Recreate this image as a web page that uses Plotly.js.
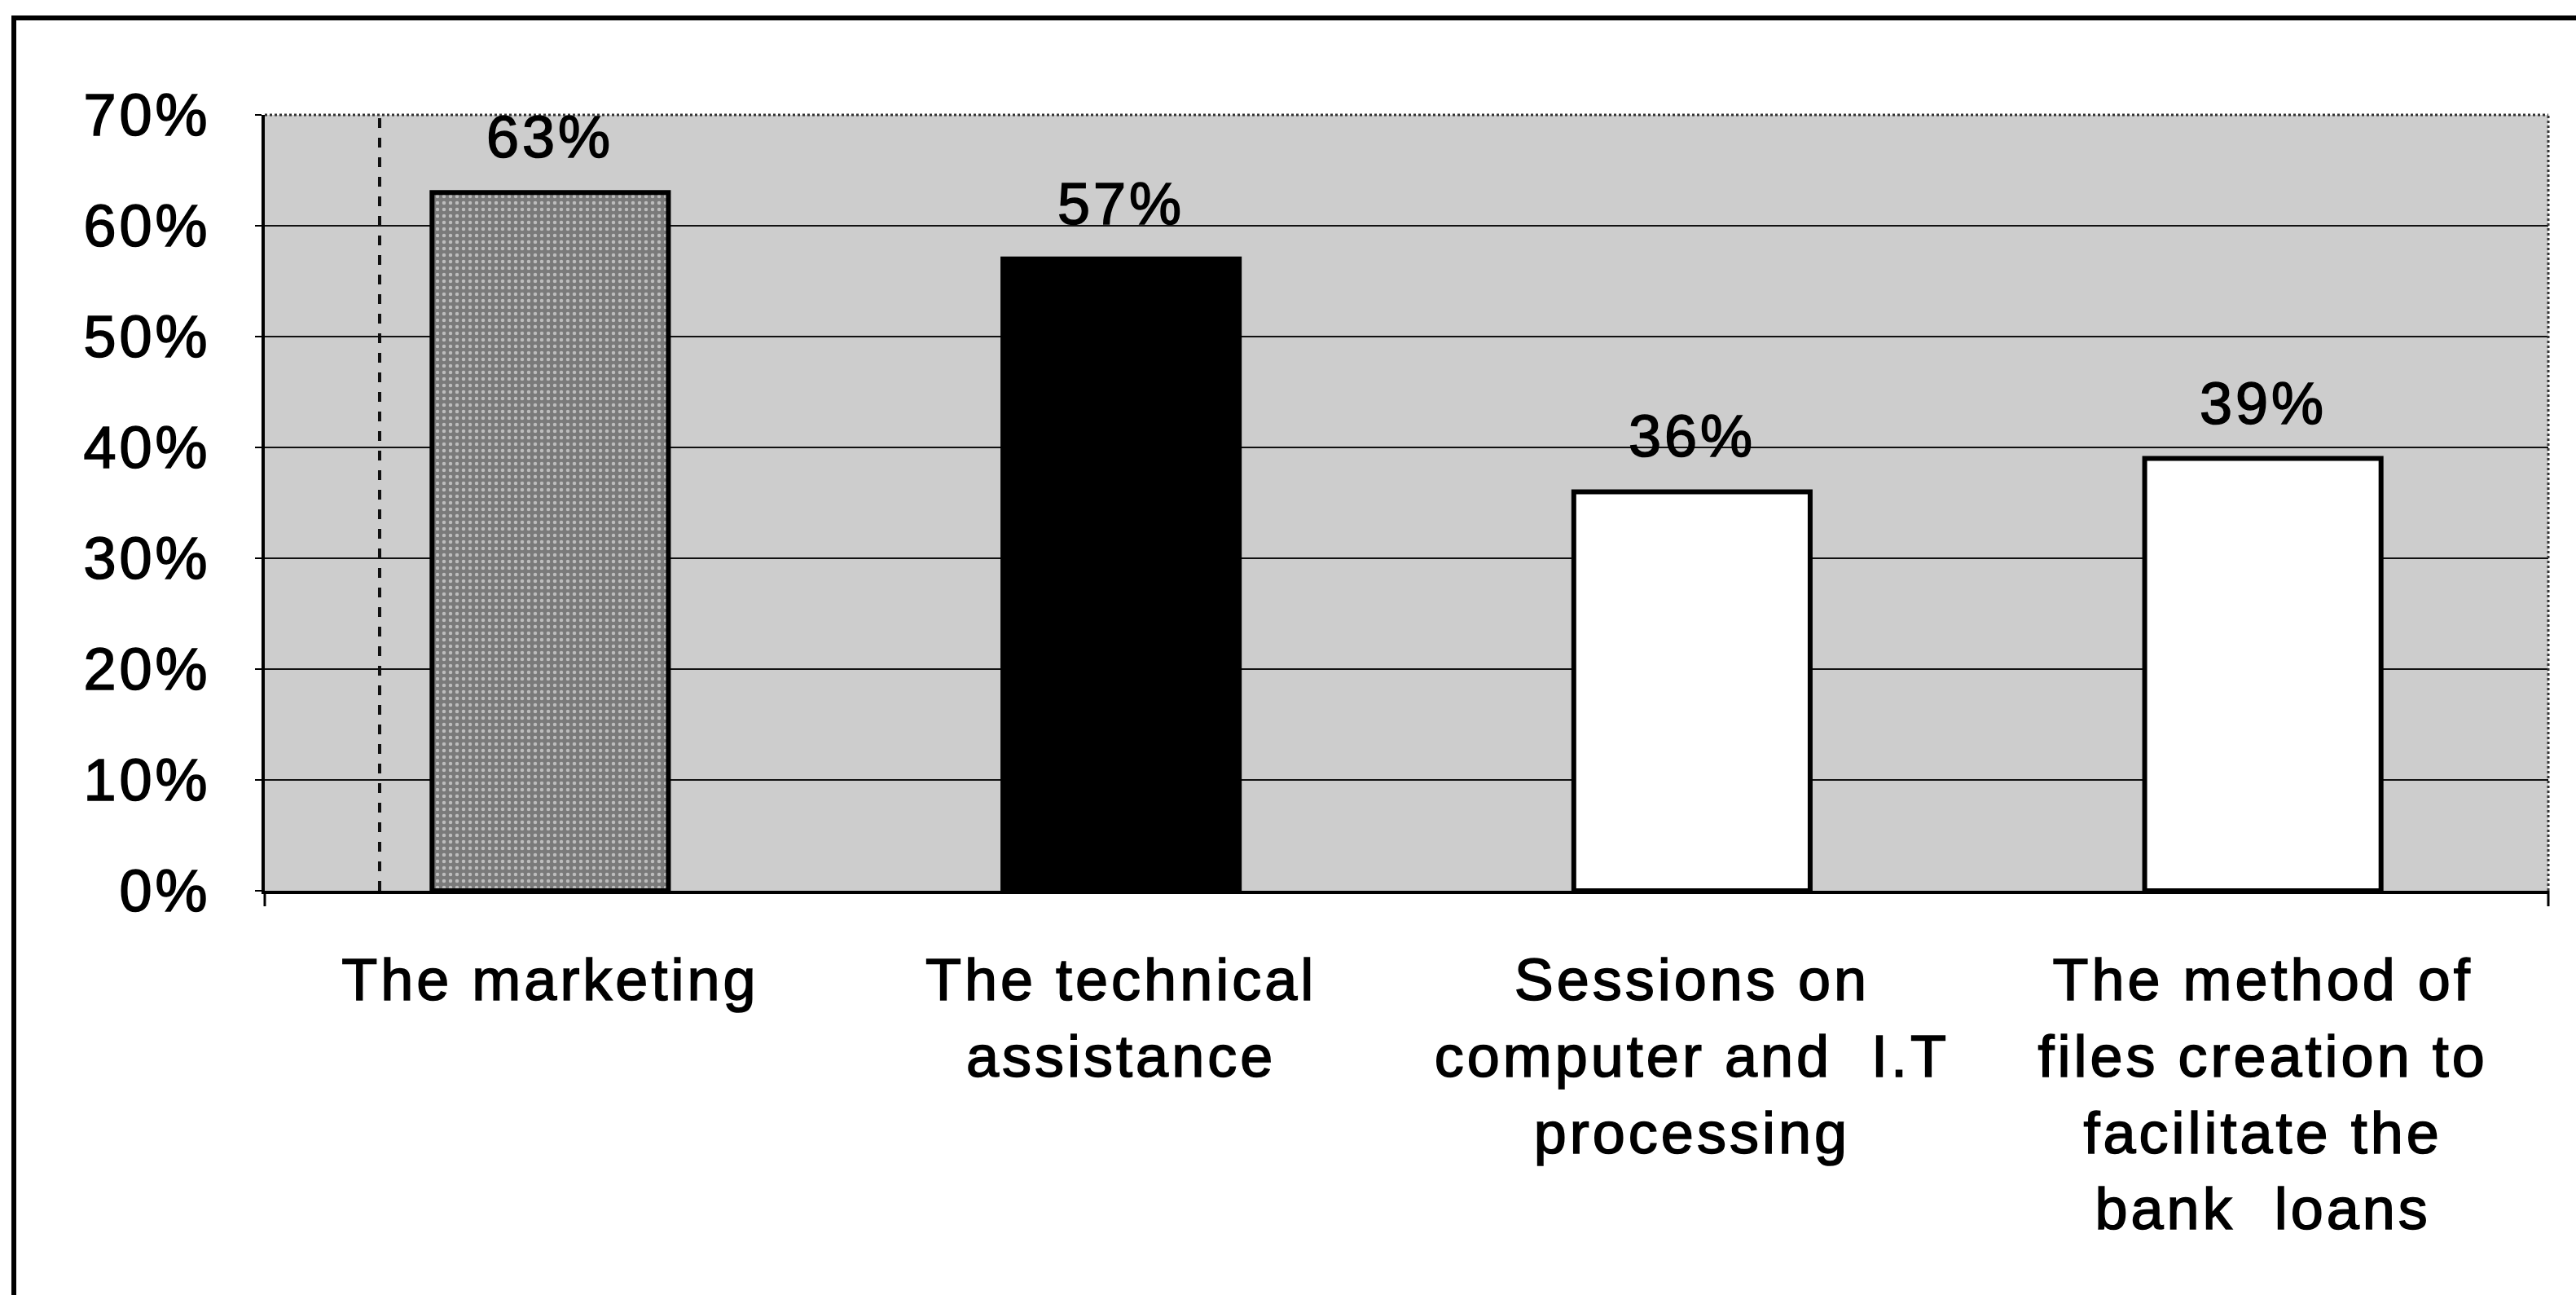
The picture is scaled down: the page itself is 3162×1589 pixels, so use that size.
<!DOCTYPE html>
<html>
<head>
<meta charset="utf-8">
<script src="https://cdn.plot.ly/plotly-3.0.1.min.js"></script>
<style>
  html, body { margin: 0; padding: 0; background: #ffffff; width: 3162px; height: 1589px; overflow: hidden; }
  #frame { position: absolute; left: 14px; top: 19px; right: 0; bottom: 0; border-left: 6px solid #000; border-top: 6px solid #000; }
  #chart { position: absolute; left: 0; top: 0; width: 3162px; height: 1589px; }
  #chart svg text { letter-spacing: 4px; stroke: #000; stroke-width: 1.6px; }
</style>
</head>
<body>
<div id="frame"></div>
<div id="chart"></div>
<script>
// ---- data ----
const categories = [
  'The marketing',
  'The technical<br>assistance',
  'Sessions on<br>computer and\u00a0 I.T<br>processing',
  'The method of<br>files creation to<br>facilitate the<br>bank\u00a0 loans'
];
const values = [63, 57, 36, 39];
const valueLabels = ['63%', '57%', '36%', '39%'];
const yTickValues = [0, 10, 20, 30, 40, 50, 60, 70];
const yTickLabels = ['0%', '10%', '20%', '30%', '40%', '50%', '60%', '70%'];

// ---- styles ----
const barFill = ['#7a7a7a', '#000000', '#ffffff', '#ffffff'];
const patShape = ['.', '', '', ''];
const FONT = 'Liberation Sans, Arial, sans-serif';

const trace = {
  type: 'bar',
  x: categories,
  y: values,
  marker: {
    color: barFill,
    line: { color: '#000000', width: 6 },
    pattern: { shape: patShape, fillmode: 'overlay', fgcolor: '#bdbdbd', size: 8, solidity: 0.25 }
  },
  hoverinfo: 'skip'
};

const annotations = categories.map((c, i) => ({
  x: c, y: values[i], xref: 'x', yref: 'y',
  text: valueLabels[i], showarrow: false,
  yanchor: 'bottom', xanchor: 'center', yshift: 26,
  font: { family: FONT, size: 72, color: '#000' }
}));

const layout = {
  width: 3162, height: 1589,
  margin: { l: 325, r: 34, t: 141, b: 496, pad: 0 },
  paper_bgcolor: 'rgba(0,0,0,0)',
  plot_bgcolor: '#cdcdcd',
  showlegend: false,
  bargap: 0.586,
  font: { family: FONT, size: 72, color: '#000' },
  xaxis: {
    type: 'category',
    showline: true, linecolor: '#000', linewidth: 4,
    ticks: '',
    showgrid: false,
    tickfont: { family: FONT, size: 72, color: '#000' },
    ticklabelstandoff: 44,
    fixedrange: true
  },
  yaxis: {
    range: [0, 70],
    tickvals: yTickValues, ticktext: yTickLabels,
    showline: true, linecolor: '#000', linewidth: 4,
    ticks: 'outside', ticklen: 8, tickwidth: 2, tickcolor: '#000',
    showgrid: true, gridcolor: '#111', gridwidth: 2,
    zeroline: false,
    tickfont: { family: FONT, size: 72, color: '#000' },
    ticklabelstandoff: 40,
    fixedrange: true
  },
  annotations: annotations,
  shapes: [
    { type: 'line', xref: 'paper', yref: 'paper', x0: 0, x1: 1, y0: 1, y1: 1,
      line: { color: '#333', width: 3, dash: 'dot' } },
    { type: 'line', xref: 'paper', yref: 'paper', x0: 1, x1: 1, y0: 0, y1: 1,
      line: { color: '#333', width: 3, dash: 'dot' } },
    { type: 'line', xref: 'paper', yref: 'paper', x0: 0.0503, x1: 0.0503, y0: 0, y1: 1,
      line: { color: '#111', width: 4, dash: 'dash' }, layer: 'below' },
    { type: 'line', xref: 'paper', yref: 'paper', x0: 0, x1: 0, y0: 0, y1: -0.02,
      line: { color: '#000', width: 3 } },
    { type: 'line', xref: 'paper', yref: 'paper', x0: 1, x1: 1, y0: 0, y1: -0.02,
      line: { color: '#000', width: 3 } }
  ]
};

Plotly.newPlot('chart', [trace], layout, { displayModeBar: false, staticPlot: true });
</script>
</body>
</html>
